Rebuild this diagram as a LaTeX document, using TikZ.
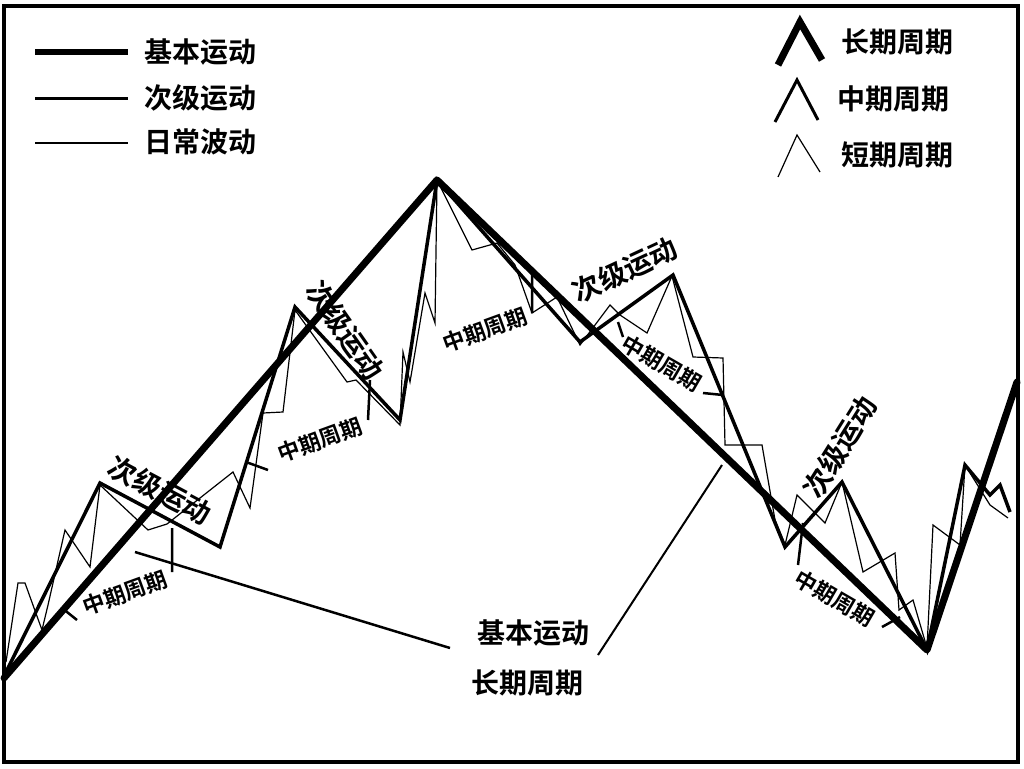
\documentclass[tikz,border=0pt]{standalone}
\usepackage{fontspec}
\newfontfamily\cjk{Noto Sans CJK SC Bold}
\begin{document}
\begin{tikzpicture}[x=1pt,y=-1pt,
  prim/.style={line width=7pt,line join=round,line cap=round},
  sec/.style={line width=3.5pt,line join=miter},
  daily/.style={line width=1.2pt},
  lab/.style={font=\cjk\fontsize{28}{30}\selectfont,inner sep=1pt},
  sml/.style={font=\cjk\fontsize{22}{24}\selectfont,inner sep=1pt}]
\useasboundingbox (0,0) rectangle (1024,768);
\fill[white] (0,0) rectangle (1024,768);
\draw[line width=4pt] (4,6) rectangle (1018,762);
% daily
\draw[daily] (6,662)--(18,583)--(25,583)--(42,630)--(48,605)--(65,530)--(90,567)--(100,485)--(148,530)--(167,524)--(233,472)--(250,508)--(263,413)--(283,412)--(295,310)--(347,382)--(356,380)--(400,425)--(403,352)--(410,382)--(425,293)--(435,323)--(437,180)--(472,250)--(497,243)--(515,265)--(532,313)--(557,297)--(580,345)--(610,305)--(620,315)--(647,333)--(672,276)--(693,357)--(723,358)--(725,445)--(762,445)--(775,520)--(785,545)--(797,495)--(825,523)--(842,482)--(863,572)--(895,553)--(899,610)--(913,600)--(927,648)--(933,525)--(960,545)--(965,465)--(990,505)--(1008,518);
% secondary
\draw[sec] (6,672)--(100,483)--(220,547)--(295,307)--(400,420)--(437,180)--(580,342)--(673,275)--(785,547)--(842,482)--(927,650)--(965,465)--(990,495)--(1000,485)--(1010,512);
% primary
\draw[prim] (4,678)--(437,180)--(927,650)--(1017,382);
% ticks
\draw[line width=2.5pt] (62,608)--(77,620) (172,528)--(172,572) (246,462)--(268,470) (370,380)--(368,420) (532,270)--(532,313) (618,322)--(623,337) (703,393)--(723,395) (803,523)--(798,565) (882,627)--(900,617);
% pointers
\coordinate (p1) at (135,552); \coordinate (p2) at (722,465);
\node[lab] (b1) at (533,633) {基本运动};
\node[lab] (b2) at (527,683) {长期周期};
\draw[line width=2.5pt] (p1)--(450,648);
\draw[line width=2pt] (p2)--(598,655);
% rotated labels
\node[lab,rotate=-28] (s1) at (160,490) {次级运动};
\node[lab,rotate=-55] (s2) at (345,330) {次级运动};
\node[lab,rotate=25] (s3) at (625,270) {次级运动};
\node[lab,rotate=58] (s4) at (840,447) {次级运动};
\node[sml,rotate=20] (m1) at (125,593) {中期周期};
\node[sml,rotate=20] (m2) at (320,440) {中期周期};
\node[sml,rotate=20] (m3) at (485,330) {中期周期};
\node[sml,rotate=-30] (m4) at (662,363) {中期周期};
\node[sml,rotate=-30] (m5) at (835,598) {中期周期};
% legend
\draw[line width=6pt] (35,52)--(128,52);
\draw[line width=3pt] (35,98)--(128,98);
\draw[line width=1.2pt] (35,143)--(128,143);
\node[lab] (l1) at (200,52) {基本运动};
\node[lab] (l2) at (200,98) {次级运动};
\node[lab] (l3) at (200,142) {日常波动};
\draw[line width=7pt,line join=miter] (778,65)--(800,22)--(822,60);
\draw[line width=3pt] (775,122)--(797,80)--(818,120);
\draw[line width=1.2pt] (778,177)--(797,135)--(820,172);
\node[lab] (r1) at (897,42) {长期周期};
\node[lab] (r2) at (893,99) {中期周期};
\node[lab] (r3) at (897,155) {短期周期};
\end{tikzpicture}
\end{document}
